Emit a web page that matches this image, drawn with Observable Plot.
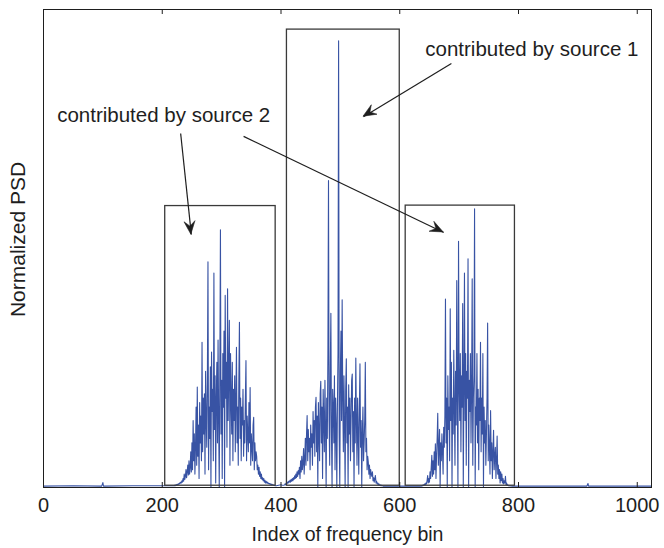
<!DOCTYPE html>
<html>
<head>
<meta charset="utf-8">
<script src="https://cdn.jsdelivr.net/npm/d3@7"></script>
<script src="https://cdn.jsdelivr.net/npm/@observablehq/plot@0.6"></script>
<style>
  html, body { margin: 0; padding: 0; background: #fff; }
  #chart { width: 664px; height: 548px; }
</style>
</head>
<body>
<div id="chart"></div>
<script>
// ---------- data ----------
const xTicks = [0, 200, 400, 600, 800, 1000];
const xTickLabels = ["0", "200", "400", "600", "800", "1000"];

// quiet part of the spectrum (bin, value)
const quietBins = [0, 50, 98, 100, 101, 150, 200, 215, 396, 400, 402, 580, 600, 620, 630, 790, 800, 850, 915, 917, 918, 960, 1000, 1023];
const quietVals = [0.003, 0.004, 0.003, 0.011, 0.003, 0.004, 0.004, 0.004, 0.005, 0.006, 0.005, 0.003, 0.003, 0.003, 0.003, 0.003, 0.003, 0.003, 0.003, 0.009, 0.003, 0.003, 0.003, 0.003];

// source 2, lower band: bins 220..392
const band1Start = 220;
const band1 = [
  0.004,0.005,0.004,0.006,0.005,0.007,0.006,0.008,0.007,0.010,
  0.009,0.012,0.010,0.015,0.012,0.020,0.014,0.030,0.018,0.025,
  0.040,0.022,0.035,0.050,0.028,0.060,0.030,0.045,0.080,0.035,
  0.100,0.040,0.150,0.060,0.120,0.030,0.090,0.180,0.050,0.225,
  0.070,0.140,0.020,0.190,0.100,0.160,0.060,0.325,0.080,0.200,
  0.120,0.210,0.030,0.260,0.150,0.090,0.240,0.505,0.040,0.180,
  0.110,0.270,0.000,0.303,0.170,0.220,0.060,0.480,0.130,0.250,
  0.010,0.200,0.280,0.100,0.330,0.150,0.000,0.260,0.577,0.120,
  0.240,0.020,0.300,0.180,0.350,0.000,0.430,0.200,0.280,0.090,
  0.445,0.150,0.260,0.374,0.050,0.300,0.200,0.120,0.280,0.060,
  0.220,0.150,0.250,0.080,0.200,0.314,0.100,0.180,0.050,0.240,
  0.370,0.110,0.200,0.060,0.180,0.140,0.220,0.070,0.150,0.100,
  0.200,0.284,0.060,0.160,0.120,0.080,0.190,0.100,0.224,0.050,
  0.120,0.090,0.060,0.140,0.157,0.040,0.100,0.060,0.080,0.070,
  0.040,0.050,0.030,0.045,0.025,0.035,0.020,0.030,0.018,0.022,
  0.015,0.020,0.012,0.016,0.010,0.014,0.010,0.012,0.009,0.010,
  0.008,0.009,0.007,0.008,0.006,0.007,0.006,0.006,0.005,0.005,0.004,0.004,0.004
];

// source 1, middle band: bins 405..574
const band2Start = 405;
const band2 = [
  0.005,0.006,0.008,0.006,0.010,0.008,0.012,0.010,0.014,0.012,
  0.016,0.012,0.018,0.014,0.020,0.015,0.022,0.018,0.026,0.020,
  0.030,0.022,0.035,0.025,0.038,0.030,0.045,0.020,0.060,0.035,
  0.070,0.040,0.055,0.087,0.030,0.065,0.110,0.050,0.120,0.161,
  0.060,0.130,0.080,0.110,0.040,0.140,0.090,0.120,0.050,0.170,
  0.100,0.150,0.070,0.180,0.202,0.080,0.160,0.000,0.190,0.120,
  0.060,0.210,0.238,0.100,0.180,0.020,0.220,0.150,0.080,0.240,
  0.130,0.000,0.200,0.110,0.300,0.687,0.150,0.050,0.260,0.390,
  0.120,0.000,0.220,0.180,0.100,0.250,0.040,0.200,0.140,0.000,
  0.180,0.300,1.000,0.120,0.000,0.260,0.350,0.150,0.420,0.200,
  0.080,0.250,0.140,0.000,0.220,0.288,0.100,0.180,0.000,0.230,
  0.120,0.200,0.060,0.150,0.240,0.254,0.080,0.170,0.000,0.200,
  0.100,0.290,0.150,0.050,0.200,0.120,0.030,0.180,0.277,0.090,
  0.150,0.000,0.120,0.180,0.060,0.100,0.150,0.280,0.080,0.110,
  0.040,0.070,0.057,0.030,0.050,0.020,0.040,0.030,0.025,0.035,
  0.015,0.022,0.012,0.020,0.027,0.010,0.014,0.008,0.010,0.006,
  0.008,0.005,0.006,0.004,0.005,0.004,0.004,0.003,0.003,0.003
];

// source 2, upper band: bins 635..784
const band3Start = 635;
const band3 = [
  0.003,0.004,0.003,0.005,0.004,0.006,0.005,0.008,0.006,0.010,
  0.008,0.015,0.027,0.010,0.020,0.012,0.035,0.020,0.045,0.072,
  0.025,0.060,0.030,0.080,0.040,0.098,0.020,0.070,0.110,0.166,
  0.050,0.090,0.130,0.000,0.100,0.060,0.120,0.080,0.030,0.135,
  0.090,0.160,0.422,0.100,0.200,0.000,0.250,0.130,0.180,0.060,
  0.400,0.150,0.280,0.000,0.200,0.120,0.307,0.180,0.050,0.260,
  0.140,0.463,0.200,0.000,0.551,0.230,0.150,0.300,0.080,0.250,
  0.180,0.412,0.000,0.220,0.480,0.150,0.300,0.050,0.260,0.200,
  0.512,0.000,0.240,0.170,0.300,0.100,0.220,0.467,0.050,0.200,
  0.250,0.624,0.000,0.180,0.140,0.300,0.100,0.220,0.040,0.200,
  0.150,0.325,0.080,0.200,0.120,0.300,0.000,0.180,0.100,0.150,
  0.050,0.120,0.200,0.368,0.060,0.140,0.090,0.030,0.172,0.060,
  0.100,0.020,0.080,0.128,0.040,0.070,0.090,0.020,0.060,0.115,
  0.030,0.050,0.020,0.040,0.010,0.035,0.015,0.030,0.010,0.020,
  0.008,0.015,0.010,0.025,0.006,0.010,0.005,0.006,0.004,0.004
];

// boxes around the bands
const boxX1 = [205, 410, 610];
const boxX2 = [391, 600, 794];
const boxTop = [0.630, 1.025, 0.631];
const boxBottom = [0.004, 0.004, 0.004];

// annotation texts
const noteText = ["contributed by source 1", "contributed by source 2"];
const noteX = [643, 23];
const noteY = [0.967, 0.819];

// arrows (start -> tip) in data units
const arrowX1 = [687, 231, 337];
const arrowY1 = [0.949, 0.7925, 0.786];
const arrowX2 = [539, 249, 674];
const arrowY2 = [0.830, 0.566, 0.571];

const xLabel = "Index of frequency bin";
const yLabel = "Normalized PSD";

// ---------- build tables ----------
const series = [];
quietBins.forEach((b, i) => series.push({bin: b, psd: quietVals[i]}));
band1.forEach((v, i) => series.push({bin: band1Start + i, psd: v}));
band2.forEach((v, i) => series.push({bin: band2Start + i, psd: v}));
band3.forEach((v, i) => series.push({bin: band3Start + i, psd: v}));
series.sort((a, b) => a.bin - b.bin);

const boxes = boxX1.map((x1, i) => ({x1, x2: boxX2[i], y1: boxBottom[i], y2: boxTop[i]}));
const notes = noteText.map((t, i) => ({t, x: noteX[i], y: noteY[i]}));
const arrows = arrowX1.map((x1, i) => ({x1, y1: arrowY1[i], x2: arrowX2[i], y2: arrowY2[i]}));

const FONT = "'Liberation Sans', Arial, Helvetica, sans-serif";
const INK = "#1e1e1e";

// filled arrowheads drawn through the plot's scales
function arrowHeads(data) {
  return (index, scales) => {
    const sx = scales.x, sy = scales.y;
    const g = d3.create("svg:g");
    const L = 13, W = 5.5, N = 0.62;
    for (const a of data) {
      const x1 = sx(a.x1), y1 = sy(a.y1), x2 = sx(a.x2), y2 = sy(a.y2);
      const ang = Math.atan2(y2 - y1, x2 - x1);
      const c = Math.cos(ang), s = Math.sin(ang);
      const pt = (u, v) => [x2 + u * c - v * s, y2 + u * s + v * c];
      const p = [pt(0, 0), pt(-L, W), pt(-L * N, 0), pt(-L, -W)];
      g.append("path")
        .attr("d", "M" + p.map(q => q[0].toFixed(2) + "," + q[1].toFixed(2)).join("L") + "Z")
        .attr("fill", INK)
        .attr("stroke", INK)
        .attr("stroke-width", 0.6);
    }
    return g.node();
  };
}

const chart = Plot.plot({
  width: 664,
  height: 548,
  marginLeft: 43,
  marginRight: 13,
  marginTop: 9,
  marginBottom: 61,
  style: {fontFamily: FONT, fontSize: "19px", background: "#fff", color: INK},
  x: {domain: [0, 1024]},
  y: {domain: [0, 1.07], axis: null},
  marks: [
    Plot.line(series, {x: "bin", y: "psd", stroke: "#3853a4", strokeWidth: 1.1}),
    Plot.rect(boxes, {x1: "x1", x2: "x2", y1: "y1", y2: "y2", fill: "none", stroke: "#3a3a3a", strokeWidth: 1.3}),
    Plot.link(arrows, {x1: "x1", y1: "y1", x2: "x2", y2: "y2", stroke: INK, strokeWidth: 1.2}),
    arrowHeads(arrows),
    Plot.text(notes, {x: "x", y: "y", text: "t", textAnchor: "start", lineAnchor: "bottom", fontSize: 20.5, fill: INK}),
    Plot.frame({stroke: INK, strokeWidth: 1}),
    Plot.tickX(xTicks, {x: d => d, insetTop: 473, stroke: INK, strokeWidth: 1}),
    Plot.tickX(xTicks, {x: d => d, insetBottom: 473, stroke: INK, strokeWidth: 1}),
    Plot.axisX({ticks: xTicks, tickFormat: (d) => xTickLabels[xTicks.indexOf(d)], tickSize: 0, tickPadding: 10, label: null, fontSize: 20, fill: INK}),
    Plot.text([xLabel], {frameAnchor: "bottom", dy: 53, fontSize: 19.5, fill: INK}),
    Plot.text([yLabel], {frameAnchor: "left", textAnchor: "middle", rotate: -90, dx: -25, dy: -9, fontSize: 21, fill: INK})
  ]
});
document.getElementById("chart").appendChild(chart);
</script>
</body>
</html>
